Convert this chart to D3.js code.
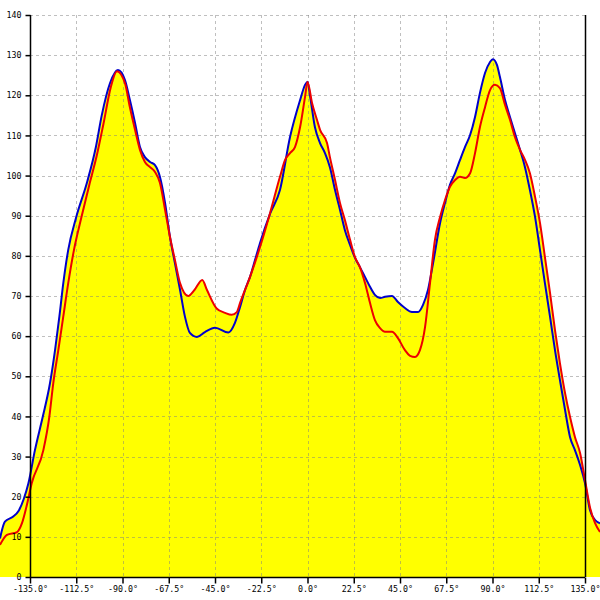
<!DOCTYPE html>
<html>
<head>
<meta charset="utf-8">
<script src="https://cdn.jsdelivr.net/npm/d3@7"></script>
<style>
  html, body { margin: 0; padding: 0; background: #fff; }
  svg { display: block; }
</style>
</head>
<body>
<svg id="chart" width="600" height="600"></svg>
<script>
// ---- data ----
const blueAngles = [-149.6,-147.2,-143.3,-140.5,-138,-135.8,-132.6,-128.8,-125.3,-122.8,-120.7,-118.8,-116.4,-112.6,-107.1,-103.0,-100.1,-96.1,-92.2,-88.8,-86.4,-83.9,-81.5,-79.1,-76.6,-74.2,-71.8,-69.3,-66.9,-64.5,-62.0,-59.6,-57.2,-53.8,-49.9,-45.0,-38.5,-35.3,-32.8,-30.4,-28.0,-25.5,-23.1,-18.2,-13.4,-8.5,-3.6,-1.2,0,1.2,3.6,6.1,8.5,10.9,13.4,15.8,18.2,20.7,23.1,25.5,28.0,30.4,32.8,35.3,37.7,41.1,44.0,47.4,50.8,53.8,56.2,58.6,61.1,64.5,66.9,69.3,71.8,74.2,76.6,79.1,81.5,83.9,86.4,88.8,90.2,92.2,93.6,96.1,98.5,100.9,103.4,105.8,108.2,110.7,113.1,115.5,118.0,120.4,122.8,125.3,127.7,130.1,132.6,135.0,137.4,139.9,142.3];
const blueValues = [9.6,13.8,15.0,16.5,19.5,23.3,31.6,39.9,48.2,56.6,64.9,73.2,81.5,89.5,98.6,107.0,115.0,123.0,126.3,123.8,118.8,113.1,107.1,104.6,103.4,102.6,99.7,93.2,84.7,78.2,71.5,64.8,60.8,59.8,61.0,62.1,60.9,63.3,67.3,71.5,74.7,79.0,83.2,90.5,96.4,109.6,118.8,122.6,123.4,120,112.1,108.1,105.6,102.1,96.4,91.5,86.4,82.7,79.5,77.2,74.7,72.3,70.3,69.5,69.8,70.0,68.5,67.0,66.0,66.0,67.8,71.5,78.2,88.2,93.2,97.7,100.6,103.9,107.1,110.1,114.6,120.6,125.6,128.3,129.0,127.5,124.6,118.8,114.6,110.6,106.4,102.1,96.4,89.7,81.5,73.2,64.8,56.5,49.1,41.6,34.9,31.6,27.9,23.4,16.7,14.2,13.4];

const redAngles = [-149.6,-146.2,-141.3,-138.9,-136.5,-134.2,-128.5,-125.6,-123.7,-121.2,-118.8,-116.4,-113.6,-109.9,-106.1,-102.6,-99.3,-95.7,-92.7,-88.8,-86.4,-83.9,-81.5,-79.1,-76.6,-74.2,-71.8,-69.3,-66.9,-64.5,-62.0,-58.0,-55.0,-51.2,-48.9,-44.2,-40.1,-36.9,-34.4,-32.8,-30.4,-28.0,-23.1,-18.2,-13.4,-10.9,-8.5,-6.1,-3.6,-1.2,0,2.2,4.6,6.1,9.5,10.9,13.4,15.8,18.2,20.7,23.1,25.5,28.0,30.4,32.8,35.3,37.7,41.1,44.0,47.4,49.9,52.3,54.7,57.2,59.6,62.0,64.5,66.9,69.3,71.8,74.2,76.6,79.1,81.5,83.9,86.4,88.8,91.2,93.6,96.1,98.5,100.9,103.4,105.8,108.2,110.7,113.1,115.5,118.0,120.4,122.8,125.3,127.7,130.1,132.6,135.0,137.4,139.9,142.3];
const redValues = [8.0,10.5,11.2,13.4,18.0,23.3,31.6,39.9,48.2,56.6,64.9,73.2,81.5,89.8,97.8,104.8,112.8,122.0,126.0,123.0,117.0,111.4,106.4,103.4,102.1,100.9,98.2,91.5,84.7,79.0,73.2,70.0,71.5,74.0,71.5,66.9,65.8,65.3,66.0,68.3,71.5,74.7,82.2,90.7,99.7,103.9,105.6,107.1,112.1,119.6,123.3,118.1,113.9,111.4,108.1,104.6,98.9,93.2,88.9,84.0,79.7,77.2,73.2,68.3,64.0,62.0,61.1,61.1,59.5,56.5,55.1,54.8,56.5,62.3,73.2,84.0,89.7,93.9,97.2,98.9,99.7,99.4,100.6,105.6,112.1,117.1,121.3,122.6,121.8,117.6,113.9,109.6,106.4,103.9,100.6,94.7,88.2,79.7,70.7,61.5,53.3,45.8,39.9,34.9,30.9,24.2,17.4,13.4,11.2];

const xTicks = [-135, -112.5, -90, -67.5, -45, -22.5, 0, 22.5, 45, 67.5, 90, 112.5, 135];
const yTicks = [0, 10, 20, 30, 40, 50, 60, 70, 80, 90, 100, 110, 120, 130, 140];

// ---- layout ----
const padL = 30, padR = 585, padT = 15, padB = 577;
const svg = d3.select("#chart");
const x = d3.scaleLinear().domain([-135, 135]).range([padL, padR]);
const y = d3.scaleLinear().domain([0, 140]).range([padB, padT]);

const blue = blueAngles.map((a, i) => ({a, v: blueValues[i]}));
const red = redAngles.map((a, i) => ({a, v: redValues[i]}));

const curve = d3.curveMonotoneX;
const area = d3.area().x(d => x(d.a)).y0(y(0)).y1(d => y(d.v)).curve(curve);
const line = d3.line().x(d => x(d.a)).y(d => y(d.v)).curve(curve);

svg.append("path").datum(blue).attr("d", area).attr("fill", "#ffff00");
svg.append("path").datum(red).attr("d", area).attr("fill", "#ffff00");

// grid
const grid = svg.append("g").attr("stroke", "#808080").attr("stroke-opacity", 0.5)
  .attr("stroke-dasharray", "3,3").attr("stroke-width", 1);
yTicks.filter(t => t > 0).forEach(t => {
  grid.append("line").attr("x1", padL).attr("x2", padR)
    .attr("y1", Math.round(y(t)) + 0.5).attr("y2", Math.round(y(t)) + 0.5);
});
xTicks.filter(t => t > -135 && t < 135).forEach(t => {
  grid.append("line").attr("y1", padT).attr("y2", padB)
    .attr("x1", Math.round(x(t)) + 0.5).attr("x2", Math.round(x(t)) + 0.5);
});

// lines
svg.append("path").datum(blue).attr("d", line).attr("fill", "none")
  .attr("stroke", "#0000cc").attr("stroke-width", 2);
svg.append("path").datum(red).attr("d", line).attr("fill", "none")
  .attr("stroke", "#ee0000").attr("stroke-width", 2);

// axes
const font = "'DejaVu Sans Mono', monospace";
const yAxis = d3.axisLeft(y).tickValues(yTicks).tickSize(5).tickPadding(4).tickFormat(d3.format("d"));
const gy = svg.append("g").attr("transform", `translate(${padL + 0.5},0)`).call(yAxis);
const xAxis = d3.axisBottom(x).tickValues(xTicks).tickSize(6).tickPadding(3)
  .tickFormat(d => d.toFixed(1) + "°");
const gx = svg.append("g").attr("transform", `translate(0,${padB + 0.5})`).call(xAxis);
[gx, gy].forEach(g => {
  g.select(".domain").attr("stroke", "#000").attr("stroke-width", 1.5);
  g.selectAll(".tick line").attr("stroke", "#000").attr("stroke-width", 1.5);
  g.selectAll("text").attr("font-family", font).attr("font-size", 8.3).attr("fill", "#000");
});
gy.select(".domain").attr("d", `M0,${padT}V${padB}`);
gx.select(".domain").attr("d", `M${padL},0H${padR}`);

// right border line
svg.append("line").attr("x1", padR + 0.5).attr("x2", padR + 0.5)
  .attr("y1", padT).attr("y2", padB).attr("stroke", "#000").attr("stroke-width", 1.5);
</script>
</body>
</html>
